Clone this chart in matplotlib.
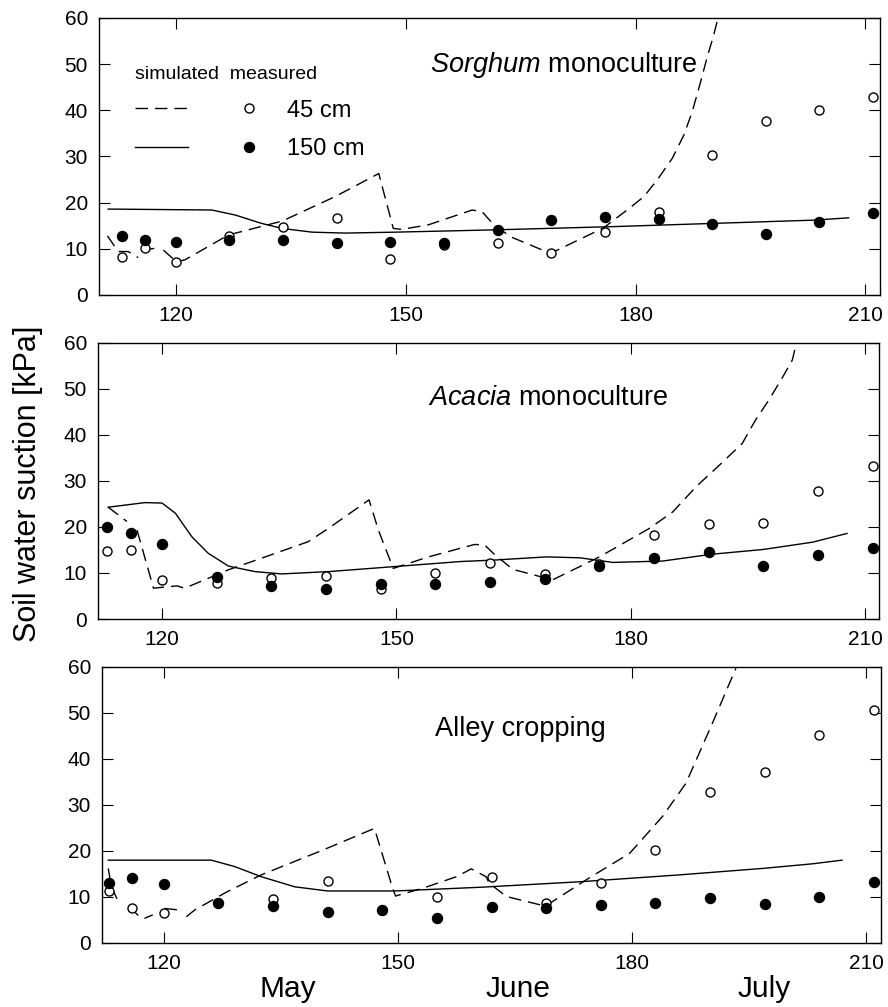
import numpy as np
import matplotlib
matplotlib.use('Agg')
from matplotlib import pyplot as plt
from matplotlib.lines import Line2D
from matplotlib.legend_handler import HandlerTuple

plt.rcParams['font.family'] = ['Liberation Sans', 'DejaVu Sans']
plt.rcParams['mathtext.fontset'] = 'custom'
plt.rcParams['mathtext.rm'] = 'Liberation Sans'
plt.rcParams['mathtext.it'] = 'Liberation Sans:italic'

nan = np.nan

# measurement days (day of year)
meas_days = [113, 116, 120, 127, 134, 141, 148, 155, 162, 169, 176, 183, 190, 197, 204, 211]

# Sorghum monoculture
sor_45 = [8.3, 10.2, 7.2, 12.8, 14.8, 16.6, 7.7, 10.8, 11.2, 9.0, 13.7, 18.0, 30.3, 37.7, 40.0, 42.9]
sor_150 = [12.8, 11.9, 11.5, 11.8, 12.0, 11.3, 11.4, 11.3, 14.1, 16.2, 16.9, 16.5, 15.3, 13.3, 15.7, 17.8]
sor_sim45_d = [111.1, 112.5, 113.8, 115.1, nan, 115.6, 117.7, nan, 118.4, 120.1, 121.2, 126.9,
               133.9, 140.8, 146.5, 148.4, 149.5, 153.0, 158.7, 160.0, 161.5, 163.7, 168.9,
               175.8, 178.9, 181.1, 183.0, 184.8, 186.3, 187.4, 188.5, 189.3, 190.2, 190.8]
sor_sim45 = [12.8, 9.4, 9.4, 8.1, nan, 9.7, 10.2, nan, 9.7, 7.2, 7.6, 13.0,
             16.0, 21.3, 26.3, 14.4, 14.2, 15.2, 18.4, 18.0, 15.2, 12.6, 9.0,
             14.5, 18.4, 21.3, 25.3, 29.6, 34.6, 39.7, 46.2, 51.2, 56.3, 60.2]
sor_sim150_d = [111.2, 124.7, 127.8, 131.2, 133.9, 137.8, 142.1, 148.6, 161.7, 177.1, 190.2, 203.2, 207.8]
sor_sim150 = [18.6, 18.4, 17.3, 15.5, 14.4, 13.6, 13.4, 13.6, 14.1, 14.8, 15.5, 16.2, 16.7]

# Acacia monoculture
aca_45 = [14.8, 15.0, 8.5, 7.8, 9.0, 9.3, 6.5, 9.9, 12.2, 9.7, 12.0, 18.3, 20.6, 20.8, 27.8, 33.3]
aca_150 = [19.9, 18.8, 16.3, 9.1, 7.2, 6.5, 7.6, 7.6, 8.1, 8.7, 11.5, 13.2, 14.5, 11.5, 13.9, 15.4]
aca_sim45_d = [113.1, 115.5, nan, 116.8, 118.9, 121.9, 122.9, 128.5, 132.7, 138.7, 141.3, 146.5,
               147.7, 149.6, 154.1, 160.0, 161.3, 162.4, 164.9, 170.0, 176.0, 179.4, 182.4,
               185.4, 188.4, 191.4, 194.3, 196.0, 197.7, 199.5, 200.7, 201.2]
aca_sim45 = [24.3, 21.2, nan, 19.3, 6.7, 7.2, 6.7, 10.7, 13.2, 16.8, 19.7, 25.9,
             19.3, 11.0, 13.5, 16.2, 16.1, 14.3, 10.8, 8.5, 13.5, 16.8, 19.7,
             23.3, 28.8, 33.5, 38.2, 43.3, 47.6, 52.7, 56.3, 59.9]
aca_sim150_d = [113.1, 117.8, 120.0, 121.7, 123.8, 125.9, 128.5, 131.9, 135.3, 141.3, 149.8,
                158.3, 162.4, 169.2, 173.5, 177.7, 184.1, 190.5, 196.9, 203.3, 207.7]
aca_sim150 = [24.3, 25.3, 25.2, 23.0, 17.9, 14.3, 11.5, 10.3, 9.8, 10.3, 11.4,
              12.5, 12.8, 13.5, 13.3, 12.3, 12.6, 14.1, 15.1, 16.7, 18.6]

# Alley cropping
all_45 = [11.3, 7.7, 6.6, 8.6, 9.5, 13.5, 7.2, 9.9, 14.4, 8.6, 13.0, 20.2, 32.9, 37.2, 45.1, 50.7]
all_150 = [13.0, 14.1, 12.8, 8.6, 8.1, 6.7, 7.2, 5.5, 7.9, 7.7, 8.2, 8.6, 9.7, 8.4, 9.9, 13.2]
all_sim45_d = [112.9, 113.3, 114.1, nan, 115.6, 116.9, 117.6, 118.6, nan, 120.1, 121.8, nan,
               122.9, 124.0, 128.2, 132.5, 140.4, 147.0, 149.2, 149.7, 153.2, 157.5, 159.4,
               161.3, 161.7, 163.9, 168.9, 174.1, 179.7, 183.9, 186.9, 190.3, 193.3]
all_sim45 = [16.2, 12.2, 9.3, nan, 7.9, 5.7, 5.4, 6.1, nan, 7.5, 7.2, nan,
             5.7, 7.2, 11.2, 14.8, 20.2, 24.9, 12.6, 10.2, 11.9, 14.4, 16.1,
             14.4, 13.0, 10.1, 8.0, 13.7, 19.5, 27.5, 34.7, 47.8, 59.7]
all_sim150_d = [112.9, 126.1, 129.1, 132.5, 136.8, 141.0, 149.6, 160.5, 173.3, 186.1, 196.7, 203.1, 206.9]
all_sim150 = [18.0, 18.0, 16.6, 14.4, 12.2, 11.3, 11.3, 12.1, 13.3, 14.8, 16.2, 17.2, 18.0]

xticks = [120, 150, 180, 210]
yticks = [0, 10, 20, 30, 40, 50, 60]
months = ['May', 'June', 'July']

DASH = (9, 5)


def panel(ax, d45, v45, d150, v150, m45, m150, title, tx, ty, xlim):
    l45, = ax.plot(d45, v45, color='black', lw=1.0, dashes=DASH)
    l150, = ax.plot(d150, v150, color='black', lw=1.0)
    p45, = ax.plot(meas_days, m45, 'o', ms=6.5, mfc='white', mec='black', mew=1.0,
                   ls='none', zorder=3)
    p150, = ax.plot(meas_days, m150, 'o', ms=7.2, color='black', ls='none', zorder=4)
    ax.set_xlim(*xlim)
    ax.set_ylim(0, 60)
    ax.set_xticks(xticks)
    ax.set_yticks(yticks)
    ax.tick_params(direction='in', top=True, right=True, length=8, width=0.8,
                   labelsize=15, pad=8)
    for s in ax.spines.values():
        s.set_linewidth(1.0)
    ax.text(tx, ty, title, fontsize=19.5, ha='center', va='center')
    return l45, l150, p45, p150


fig = plt.figure(figsize=(8.88, 10.07), dpi=100)

ax1 = fig.add_axes([0.1115, 0.7071, 0.8795, 0.2751])
ax2 = fig.add_axes([0.1104, 0.3853, 0.8795, 0.2741])
ax3 = fig.add_axes([0.1149, 0.0636, 0.8773, 0.2741])

l45, l150, p45, p150 = panel(ax1, sor_sim45_d, sor_sim45, sor_sim150_d, sor_sim150,
                             sor_45, sor_150, r'$\mathit{Sorghum}$ monoculture',
                             170.6, 49.8, (110.0, 211.9))
panel(ax2, aca_sim45_d, aca_sim45, aca_sim150_d, aca_sim150,
      aca_45, aca_150, r'$\mathit{Acacia}$ monoculture', 169.4, 48.0, (111.8, 211.8))
panel(ax3, all_sim45_d, all_sim45, all_sim150_d, all_sim150,
      all_45, all_150, 'Alley cropping', 165.7, 46.5, (112.1, 211.9))

# legend: simulated line + measured marker per depth
h45 = Line2D([], [], color='black', lw=1.0, dashes=DASH)
h150 = Line2D([], [], color='black', lw=1.0)
leg = ax1.legend([(h45, p45), (h150, p150)], ['45 cm', '150 cm'],
                 handler_map={tuple: HandlerTuple(ndivide=None, pad=1.46)},
                 loc='upper left', bbox_to_anchor=(0.046, 0.826), frameon=False,
                 fontsize=17, title='simulated  measured', title_fontsize=14,
                 alignment='left', handlelength=5.95, handletextpad=0.5,
                 labelspacing=0.7, borderpad=0, borderaxespad=0)

fig.text(0.032, 0.520, 'Soil water suction [kPa]', rotation=90, fontsize=22,
         ha='center', va='center')

for name, x in zip(months, [0.324, 0.584, 0.861]):
    fig.text(x, 0.018, name, fontsize=21.5, ha='center', va='center')

fig.savefig('out.png', dpi=100)
